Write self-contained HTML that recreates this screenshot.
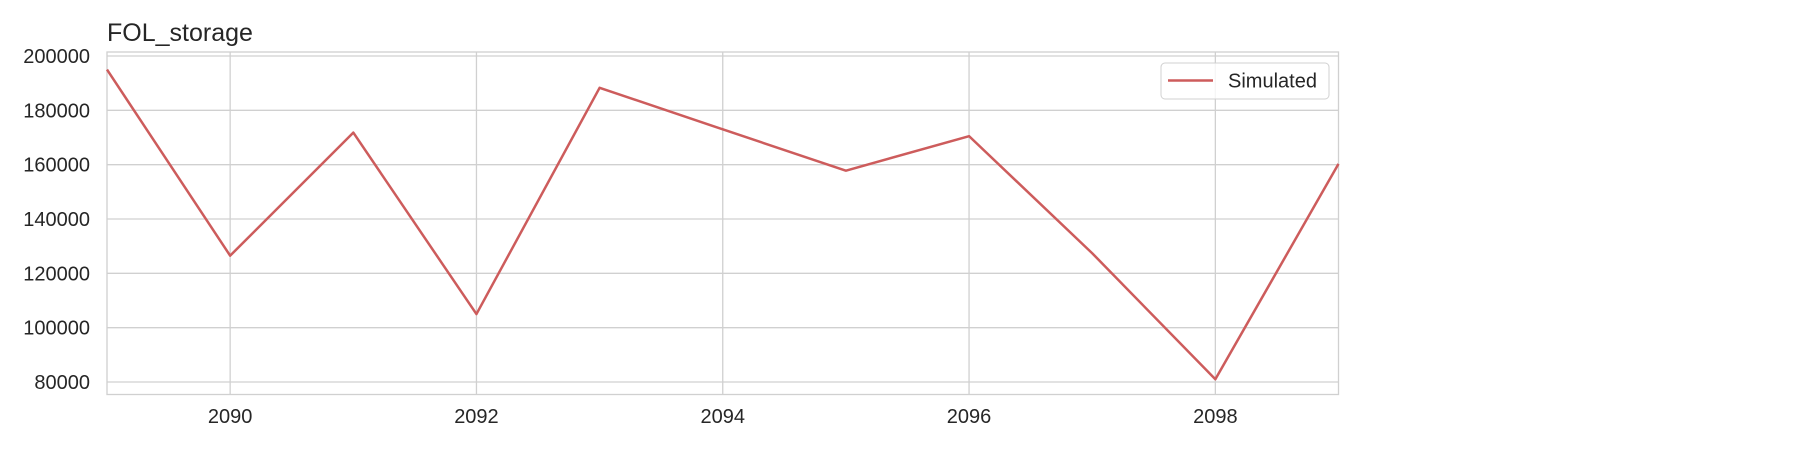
<!DOCTYPE html>
<html><head><meta charset="utf-8"><style>
body{margin:0;background:#fff;font-family:"Liberation Sans",Arial,sans-serif}
svg{display:block}
</style></head><body>
<svg id="chart" width="1800" height="450" xmlns="http://www.w3.org/2000/svg" font-family="Liberation Sans, Arial, sans-serif">
<text x="107" y="41" font-size="25" fill="#262626">FOL_storage</text>
<g id="grid"></g>
<g id="axes"></g>
<polyline id="series" fill="none" stroke="#cd5c5c" stroke-width="2.5" stroke-linejoin="round"/>
<g>
<rect x="1161" y="63" width="168" height="36" rx="4" fill="#fff" fill-opacity="0.8" stroke="#d0d0d0"/>
<line x1="1168" y1="80.5" x2="1213" y2="80.5" stroke="#cd5c5c" stroke-width="2.5"/>
<text x="1228" y="87.5" font-size="20" fill="#262626">Simulated</text>
</g>
</svg>
<script>
const years=[2089,2090,2091,2092,2093,2094,2095,2096,2097,2098,2099];
const simulated=[195000,126500,171800,105000,188300,173000,157800,170500,127400,81000,160300];
const yTicks=[80000,100000,120000,140000,160000,180000,200000];
const xTicks=[2090,2092,2094,2096,2098];
const L=107,R=1338.5,T=52,B=394.5;
const xs=v=>L+(v-2089)/(2099-2089)*(R-L);
const ys=v=>382-(v-80000)/120000*(382-56);
const NS="http://www.w3.org/2000/svg";
const grid=document.getElementById('grid'),axes=document.getElementById('axes');
function mk(tag,attrs,parent){const e=document.createElementNS(NS,tag);for(const k in attrs)e.setAttribute(k,attrs[k]);parent.appendChild(e);return e;}
yTicks.forEach(v=>{
 const g=mk('line',{x1:L,x2:R,y1:ys(v),y2:ys(v),stroke:'#d0d0d0','stroke-width':1.3},grid);
 
 
 const t=mk('text',{x:L-17,y:ys(v)+7,'font-size':20,fill:'#262626','text-anchor':'end'},axes);
 t.textContent=v;
 
 
});
xTicks.forEach(v=>{
 const g=mk('line',{x1:xs(v),x2:xs(v),y1:T,y2:B,stroke:'#d0d0d0','stroke-width':1.3},grid);
 
 
 const t=mk('text',{x:xs(v),y:423,'font-size':20,fill:'#262626','text-anchor':'middle'},axes);
 t.textContent=v;
 
 
});
const fr=mk('rect',{x:L,y:T,width:R-L,height:B-T,fill:'none',stroke:'#d0d0d0','stroke-width':1.3},grid);


document.getElementById('series').setAttribute('points',years.map((y,i)=>xs(y)+','+ys(simulated[i])).join(' '));
</script>
</body></html>
